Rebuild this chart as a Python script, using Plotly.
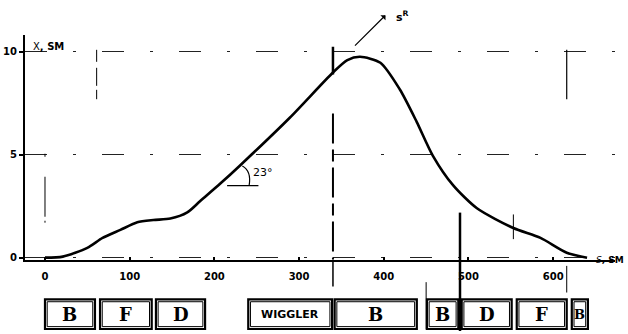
import plotly.graph_objects as go

# Orbit X(s)
s_vals = [0, 21, 50, 68, 89, 109, 128, 148, 168, 183, 207, 230, 289, 340, 357, 372, 396, 419, 439, 458, 482, 510, 553, 585, 616, 640]
x_vals = [0, 0.05, 0.48, 0.96, 1.35, 1.72, 1.83, 1.9, 2.2, 2.74, 3.6, 4.47, 6.8, 9.0, 9.6, 9.76, 9.47, 8.17, 6.59, 4.95, 3.51, 2.4, 1.44, 0.96, 0.24, 0.0]

x_ticks = [0, 100, 200, 300, 400, 500, 600]
y_ticks = [0, 5, 10]

# Magnet lattice: name, start s, end s
mag_names = ["B", "F", "D", "WIGGLER", "B", "B", "D", "F", "B"]
mag_start = [0, 65, 131, 240, 342, 451, 492, 557, 622]
mag_end = [59, 126, 189, 339, 439, 488, 551, 616, 641]

fig = go.Figure()
fig.add_trace(go.Scatter(x=s_vals, y=x_vals, mode="lines",
                         line=dict(color="black", width=2.6, shape="spline", smoothing=0.7),
                         hoverinfo="skip", showlegend=False))
# invisible trace for lattice subplot
fig.add_trace(go.Scatter(x=[0], y=[0], xaxis="x2", yaxis="y2", mode="markers",
                         marker=dict(opacity=0), showlegend=False, hoverinfo="skip"))

tickfont = dict(family="DejaVu Sans", size=10, color="black", weight="bold")
fig.update_layout(
    width=628, height=334,
    margin=dict(l=25, r=13, t=35, b=0),
    plot_bgcolor="white", paper_bgcolor="white",
    xaxis=dict(range=[-23.6, 673], tickvals=x_ticks, ticktext=[str(v) for v in x_ticks],
               showline=True, linecolor="black", linewidth=2, ticks="inside", ticklen=3,
               tickcolor="black", tickwidth=1.5, showgrid=False, zeroline=False,
               tickfont=tickfont, ticklabelstandoff=6, anchor="y"),
    yaxis=dict(range=[-0.1, 10.82], domain=[0.2408, 1], tickvals=y_ticks,
               ticktext=[str(v) for v in y_ticks], showline=True, linecolor="black",
               linewidth=2, ticks="outside", ticklen=4, tickcolor="black", tickwidth=1.5,
               showgrid=True, gridcolor="#222", gridwidth=1.2,
               griddash="22px,26px,3px,26px", zeroline=False, tickfont=tickfont),
    xaxis2=dict(range=[-23.6, 673], anchor="y2", matches="x", visible=False),
    yaxis2=dict(range=[0, 1], domain=[0, 0.1137], visible=False),
    font=dict(family="DejaVu Sans", color="black"),
)

shapes = []
for name, a, b in zip(mag_names, mag_start, mag_end):
    shapes.append(dict(type="rect", xref="x2", yref="y2", x0=a, x1=b, y0=0.06, y1=0.94,
                       line=dict(color="black", width=2.2)))
    shapes.append(dict(type="rect", xref="x2", yref="y2", x0=a + 2.6, x1=b - 2.6, y0=0.13, y1=0.87,
                       line=dict(color="black", width=1)))
fig.update_layout(shapes=shapes)

# vertical marker / grid lines
fig.add_shape(type="line", xref="x", yref="y", x0=340, x1=340, y0=10.25, y1=8.9,
              line=dict(color="black", width=2.5))
fig.add_shape(type="line", xref="x", yref="y", x0=340, x1=340, y0=7.0, y1=-0.1,
              line=dict(color="black", width=2, dash="30px,6px,12px,6px"))
fig.add_shape(type="line", xref="x", yref="paper", x0=490, x1=490, y0=0.0, y1=0.40,
              line=dict(color="black", width=2.5))
fig.add_shape(type="line", xref="x", yref="y", x0=61, x1=61, y0=10.1, y1=7.7,
              line=dict(color="black", width=1, dash="12px,6px,18px,4px"))
fig.add_shape(type="line", xref="x", yref="y", x0=0, x1=0, y0=5.05, y1=1.7,
              line=dict(color="black", width=1, dash="3px,20px,40px,4px"))
fig.add_shape(type="line", xref="x", yref="y", x0=616, x1=616, y0=10.1, y1=7.7,
              line=dict(color="black", width=1.2))
fig.add_shape(type="line", xref="x", yref="y", x0=553, x1=553, y0=2.1, y1=0.9,
              line=dict(color="black", width=1))
fig.add_shape(type="line", xref="x", yref="paper", x0=616, x1=616, y0=0.22, y1=0.13,
              line=dict(color="black", width=1))
fig.add_shape(type="line", xref="x", yref="paper", x0=340, x1=340, y0=0.24, y1=0.15,
              line=dict(color="black", width=1.5))
fig.add_shape(type="line", xref="x", yref="paper", x0=450, x1=450, y0=0.165, y1=0.005,
              line=dict(color="black", width=1))
# angle mark
fig.add_shape(type="line", xref="x", yref="y", x0=215, x1=252, y0=3.5, y1=3.5,
              line=dict(color="black", width=1.2))
fig.add_shape(type="path", xref="x", yref="y", path="M 233,4.45 Q 244,4.2 241,3.5",
              line=dict(color="black", width=1.2))

for name, a, b in zip(mag_names, mag_start, mag_end):
    if name == "WIGGLER":
        f = dict(family="DejaVu Sans", size=11, color="black", weight="bold")
    elif b - a < 30:
        f = dict(family="DejaVu Serif", size=13, color="black", weight="bold")
    else:
        f = dict(family="DejaVu Serif", size=18, color="black", weight="bold")
    fig.add_annotation(x=(a + b) / 2, y=0.5, xref="x2", yref="y2", text=name,
                       showarrow=False, font=f)

fig.add_annotation(x=243, y=4.15, xref="x", yref="y", text="23°", xanchor="left",
                   showarrow=False, font=dict(family="DejaVu Sans", size=11, color="black"))
fig.add_annotation(x=366, y=10.3, xref="x", yref="y", ax=32, ay=-32, text="",
                   showarrow=True, arrowside="start", arrowhead=2, arrowsize=1,
                   arrowwidth=1.2, arrowcolor="black", standoff=0, startstandoff=0)
fig.add_annotation(x=0.625, y=1.095, xref="paper", yref="paper", text="s<sup>R</sup>",
                   xanchor="left", showarrow=False,
                   font=dict(family="DejaVu Sans", size=11, color="black", weight="bold"))
fig.add_annotation(x=0.01, y=0.985, xref="paper", yref="paper", text="X<b>, SM</b>",
                   xanchor="left", showarrow=False,
                   font=dict(family="DejaVu Sans", size=10, color="black"))
fig.add_annotation(x=0.965, y=0.215, xref="paper", yref="paper", text="<i>S</i><b>, SM</b>",
                   xanchor="left", showarrow=False,
                   font=dict(family="DejaVu Sans", size=9, color="black"))

fig.write_html("out.html", config={"displayModeBar": False},
               post_script="document.body.style.margin='0px';")
